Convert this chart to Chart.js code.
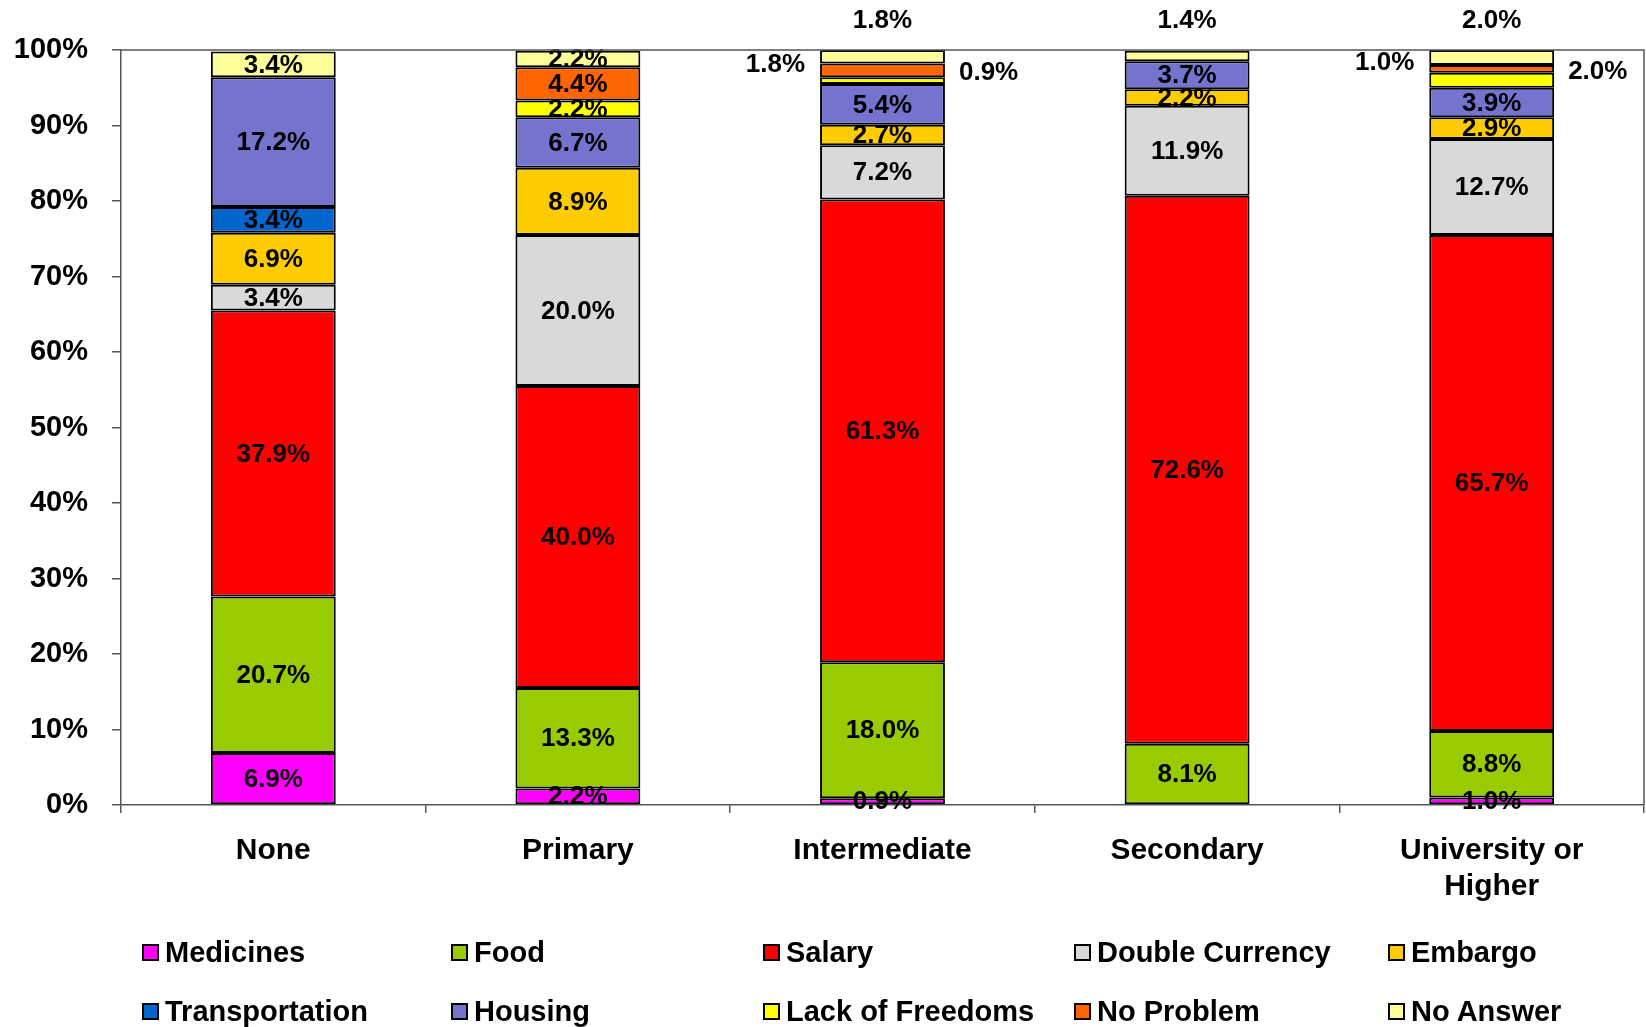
<!DOCTYPE html>
<html>
<head>
<meta charset="utf-8">
<script src="https://cdn.jsdelivr.net/npm/chart.js@4.4.1/dist/chart.umd.min.js"></script>
<style>
  html, body { margin: 0; padding: 0; background: #fff; overflow: hidden; }
  #wrap { position: relative; width: 1646px; height: 1027px; }
  #legend { position: absolute; left: 0; top: 0; width: 1646px; height: 1027px; pointer-events: none;
            font-family: "Liberation Sans", Arial, sans-serif; font-weight: bold; font-size: 29px; color: #000; }
  .item { position: absolute; height: 36px; line-height: 36px; white-space: nowrap; }
  .box { display: inline-block; width: 17px; height: 17px; box-sizing: border-box; border: 2px solid #000;
         vertical-align: middle; margin-right: 6px; position: relative; top: -2px; }
</style>
</head>
<body>
<div id="wrap">
  <canvas id="myChart" width="1646" height="1027"></canvas>
  <div id="legend"></div>
</div>
<script>
var categories = ['None', 'Primary', 'Intermediate', 'Secondary', ['University or', 'Higher']];
var tickLabels = ['0%', '10%', '20%', '30%', '40%', '50%', '60%', '70%', '80%', '90%', '100%'];

var seriesNames = ['Medicines', 'Food', 'Salary', 'Double Currency', 'Embargo',
                   'Transportation', 'Housing', 'Lack of Freedoms', 'No Problem', 'No Answer'];
var medicines      = [6.9, 2.2, 0.9, 0, 1.0];
var food           = [20.7, 13.3, 18.0, 8.1, 8.8];
var salary         = [37.9, 40.0, 61.3, 72.6, 65.7];
var doubleCurrency = [3.4, 20.0, 7.2, 11.9, 12.7];
var embargo        = [6.9, 8.9, 2.7, 2.2, 2.9];
var transportation = [3.4, 0, 0, 0, 0];
var housing        = [17.2, 6.7, 5.4, 3.7, 3.9];
var lackOfFreedoms = [0, 2.2, 0.9, 0, 2.0];
var noProblem      = [0, 4.4, 1.8, 0, 1.0];
var noAnswer       = [3.4, 2.2, 1.8, 1.4, 2.0];

var seriesValues = [medicines, food, salary, doubleCurrency, embargo,
                    transportation, housing, lackOfFreedoms, noProblem, noAnswer];
var seriesColors = ['#ff00ff', '#99cc00', '#ff0000', '#d9d9d9', '#ffcc00',
                    '#0066cc', '#7474cf', '#ffff00', '#ff6600', '#ffff99'];

// small values of these series get their label put outside the bar
var outsidePlace = { 'No Answer': 'top', 'No Problem': 'left', 'Lack of Freedoms': 'right' };

var FONT = '"Liberation Sans", Arial, sans-serif';

var dataset = [];
for (var s = 0; s < seriesNames.length; s++) {
    dataset.push({
        label: seriesNames[s],
        data: seriesValues[s].map(function(v) { return v ? v : null; }),
        backgroundColor: seriesColors[s],
        borderColor: '#000',
        borderWidth: 2,
        borderSkipped: false,
        inflateAmount: 0,
        categoryPercentage: 1.0,
        barPercentage: 0.41
    });
}

var valueLabels = {
    id: 'valueLabels',
    afterDatasetsDraw: function(chart) {
        var ctx = chart.ctx;
        ctx.save();
        ctx.font = 'bold 26px ' + FONT;
        ctx.fillStyle = '#000';
        ctx.textBaseline = 'middle';
        chart.data.datasets.forEach(function(ds, i) {
            var meta = chart.getDatasetMeta(i);
            meta.data.forEach(function(bar, j) {
                var v = ds.data[j];
                if (!v) return;
                var txt = v.toFixed(1) + '%';
                var mid = (bar.y + bar.base) / 2;
                var half = bar.width / 2;
                var place = v <= 2.0 ? outsidePlace[ds.label] : null;
                if (place == 'top') {
                    ctx.textAlign = 'center';
                    ctx.fillText(txt, bar.x, chart.chartArea.top - 29);
                } else if (place == 'left') {
                    ctx.textAlign = 'right';
                    ctx.fillText(txt, bar.x - half - 15, mid - 6);
                } else if (place == 'right') {
                    ctx.textAlign = 'left';
                    ctx.fillText(txt, bar.x + half + 14, mid - 8);
                } else {
                    ctx.textAlign = 'center';
                    ctx.fillText(txt, bar.x, mid + 1);
                }
            });
        });
        ctx.restore();
    }
};

// top and right edges of the plot area
var plotFrame = {
    id: 'plotFrame',
    afterDraw: function(chart) {
        var a = chart.chartArea, ctx = chart.ctx;
        ctx.save();
        ctx.strokeStyle = '#555';
        ctx.lineWidth = 1.5;
        ctx.beginPath();
        ctx.moveTo(a.left, a.top);
        ctx.lineTo(a.right, a.top);
        ctx.lineTo(a.right, a.bottom);
        ctx.stroke();
        ctx.restore();
    }
};

var ctx = document.getElementById('myChart');
var myChart = new Chart(ctx, {
    type: 'bar',
    data: {
        labels: categories,
        datasets: dataset
    },
    options: {
        responsive: false,
        animation: false,
        layout: { padding: { top: 50, right: 2, left: 0, bottom: 0 } },
        plugins: {
            legend: { display: false },
            tooltip: { enabled: false }
        },
        scales: {
            x: {
                stacked: true,
                grid: { display: true, drawOnChartArea: false, drawTicks: true, tickLength: 8,
                        color: '#555', lineWidth: 1.5, offset: true },
                border: { display: true, color: '#555', width: 1.5 },
                ticks: { color: '#000', font: { family: FONT, size: 30, weight: 'bold' },
                         padding: 20, maxRotation: 0, autoSkip: false },
                afterFit: function(scale) { scale.height = 222; }
            },
            y: {
                stacked: true,
                min: 0,
                max: 100,
                grid: { display: true, drawOnChartArea: false, drawTicks: true, tickLength: 9,
                        color: '#555', lineWidth: 1.5 },
                border: { display: true, color: '#555', width: 1.5 },
                ticks: {
                    stepSize: 10,
                    color: '#000',
                    padding: 24,
                    font: { family: FONT, size: 29, weight: 'bold' },
                    callback: function(value) { return tickLabels[Math.round(value / 10)]; }
                },
                afterFit: function(scale) { scale.width = 121; }
            }
        }
    },
    plugins: [valueLabels, plotFrame]
});

// legend: five columns, two rows
var legendCols = [142, 451, 763, 1074, 1388];
var legendRows = [952, 1011];
var legend = document.getElementById('legend');
for (var k = 0; k < seriesNames.length; k++) {
    var item = document.createElement('div');
    item.className = 'item';
    item.style.left = legendCols[k % 5] + 'px';
    item.style.top = (legendRows[Math.floor(k / 5)] - 18) + 'px';
    var box = document.createElement('span');
    box.className = 'box';
    box.style.background = seriesColors[k];
    item.appendChild(box);
    item.appendChild(document.createTextNode(seriesNames[k]));
    legend.appendChild(item);
}
</script>
</body>
</html>
